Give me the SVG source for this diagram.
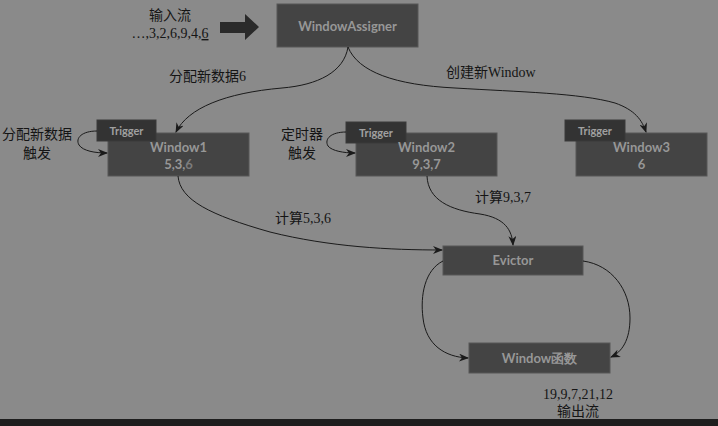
<svg xmlns="http://www.w3.org/2000/svg" width="718" height="426" viewBox="0 0 718 426">
<style>
.box{fill:#444444;stroke:#575757;stroke-width:1}
.trig{fill:#333333;stroke:#3a3a3a;stroke-width:1}
.bt{font-family:"Lato","Open Sans","Liberation Sans",sans-serif;font-size:13px;font-weight:bold;fill:#979797;text-anchor:middle}
.tt{font-family:"Lato","Liberation Sans",sans-serif;font-size:11px;fill:#a0a0a0;text-anchor:middle;font-weight:bold}
.lb{font-family:"Liberation Serif","Noto Sans CJK SC",serif;font-size:14px;fill:#151515}
.c{fill:none;stroke:#1a1a1a;stroke-width:1}
</style>
<defs>
<marker id="ah" markerWidth="10" markerHeight="8" refX="9" refY="4" orient="auto" markerUnits="userSpaceOnUse">
<path d="M0,0 L10,4 L0,8 L3,4 Z" fill="#1a1a1a"/>
</marker>
</defs>
<rect x="0" y="0" width="718" height="426" fill="#8a8a8a"/>
<rect x="0" y="419" width="718" height="7" fill="#1e1e1e"/>

<g id="input">
<text class="lb" x="170" y="20" text-anchor="middle">输入流</text>
<text class="lb" x="170" y="38" text-anchor="middle">…,3,2,6,9,4,<tspan text-decoration="underline">6</tspan></text>
<path d="M220,22 L245,22 L245,14 L259,27 L245,40 L245,33 L220,33 Z" fill="#2a2a2a"/>
</g>

<g id="windowassigner">
<rect class="box" x="277" y="4" width="141" height="43"/>
<text class="bt" x="347.5" y="31">WindowAssigner</text>
</g>

<g id="window1">
<rect class="box" x="108" y="133" width="141" height="43"/>
<rect class="trig" x="97" y="120" width="59" height="21"/>
<text class="tt" x="126.5" y="135">Trigger</text>
<text class="bt" x="178.5" y="152">Window1</text>
<text class="bt" x="178.5" y="169">5,3,<tspan fill="#7c7c7c">6</tspan></text>
</g>

<g id="window2">
<rect class="box" x="356" y="133" width="141" height="43"/>
<rect class="trig" x="346" y="122" width="60" height="21"/>
<text class="tt" x="376" y="137">Trigger</text>
<text class="bt" x="426.5" y="152">Window2</text>
<text class="bt" x="426.5" y="169">9,3,7</text>
</g>

<g id="window3">
<rect class="box" x="576" y="133" width="131" height="43"/>
<rect class="trig" x="565" y="120" width="60" height="21"/>
<text class="tt" x="595" y="135">Trigger</text>
<text class="bt" x="641.5" y="152">Window3</text>
<text class="bt" x="641.5" y="169">6</text>
</g>

<g id="evictor">
<rect class="box" x="443" y="246" width="140" height="29"/>
<text class="bt" x="513" y="265">Evictor</text>
</g>

<g id="windowfunc">
<rect class="box" x="469" y="343" width="141" height="30"/>
<text class="bt" x="539.5" y="363">Window函数</text>
</g>

<g id="labels">
<text class="lb" x="169" y="81">分配新数据6</text>
<text class="lb" x="446" y="77">创建新Window</text>
<text class="lb" x="37" y="139" text-anchor="middle">分配新数据</text>
<text class="lb" x="37" y="158" text-anchor="middle">触发</text>
<text class="lb" x="302" y="139" text-anchor="middle">定时器</text>
<text class="lb" x="302" y="158" text-anchor="middle">触发</text>
<text class="lb" x="275" y="223">计算5,3,6</text>
<text class="lb" x="475" y="202">计算9,3,7</text>
<text class="lb" x="578" y="399" text-anchor="middle">19,9,7,21,12</text>
<text class="lb" x="578" y="416" text-anchor="middle">输出流</text>
</g>

<g id="connectors">
<path class="c" d="M348,47 C344,72 318,85 282,88 C225,93 188,108 176,132" marker-end="url(#ah)"/>
<path class="c" d="M348,47 C358,72 395,85 455,88 C520,92 580,93 615,103 C635,110 642,120 646,132" marker-end="url(#ah)"/>
<path class="c" d="M97,131 C82,131 75,138 79,145 C83,151 95,153 107,153" marker-end="url(#ah)"/>
<path class="c" d="M346,132 C331,132 324,139 328,146 C332,151 344,153 355,153" marker-end="url(#ah)"/>
<path class="c" d="M178,176 C180,200 210,215 270,232 C330,247 390,250 442,250" marker-end="url(#ah)"/>
<path class="c" d="M427,176 C428,200 450,210 480,214 C505,218 512,230 513,245" marker-end="url(#ah)"/>
<path class="c" d="M443,261 C425,270 420,295 423,318 C426,345 445,357 468,358" marker-end="url(#ah)"/>
<path class="c" d="M583,261 C612,265 630,290 630,318 C630,340 622,352 611,357" marker-end="url(#ah)"/>
</g>
</svg>
